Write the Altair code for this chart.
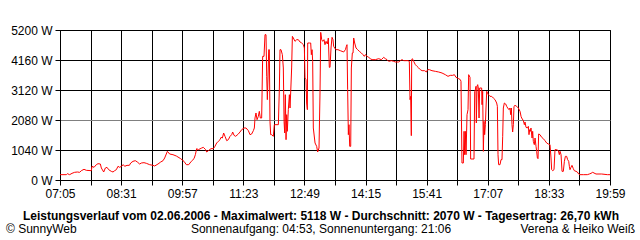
import altair as alt
import pandas as pd

# time in minutes since midnight, power in W
minutes = [
    425.0, 433.9, 435.3, 438.6, 441.9, 445.6, 449.4, 452.7, 455.0, 458.8, 462.1, 469.1, 470.0, 472.9,
    476.1, 478.5, 481.8, 483.2, 486.5, 488.8, 491.1, 493.5, 497.2, 499.6, 501.9, 504.3, 506.6, 509.0,
    511.3, 514.1, 516.0, 519.3, 522.6, 524.5, 527.7, 531.0, 533.8, 537.1, 539.5, 543.2, 546.5, 551.2,
    555.9, 558.2, 562.9, 566.7, 570.0, 572.3, 576.1, 579.3, 584.0, 588.7, 594.8, 599.5, 602.8, 606.1,
    609.8, 613.6, 615.5,
    617.3, 619.7, 624.4, 626.7, 630.0, 631.4, 633.8, 637.5, 640.8, 643.1, 645.5, 647.8, 650.2, 651.6,
    653.5, 655.3, 657.2, 659.6, 661.9, 664.3, 666.6, 668.0, 669.9, 672.2, 676.0, 678.3, 680.7, 684.0,
    686.8, 690.1, 692.4, 694.7, 697.1, 698.5, 699.4, 700.8, 702.3, 704.1, 705.5, 706.9, 708.8, 710.2,
    712.1, 713.5, 714.9, 715.9, 716.8, 717.7, 718.7, 719.6, 720.5, 721.5, 722.9, 725.2, 726.6, 732.3,
    733.7, 734.6, 736.0, 737.9, 739.3, 740.3, 741.2, 742.1, 743.1, 744.0, 744.9, 746.3, 747.8, 748.7,
    749.6, 751.0, 752.0, 753.4, 755.7, 758.1, 760.4, 762.8, 765.1, 767.5, 768.9, 769.8, 771.2, 772.1,
    773.1, 773.6, 775.9, 777.8, 778.7, 779.7, 780.6, 781.5, 783.9, 786.2, 787.6, 789.5, 790.9, 791.9,
    793.3, 794.7, 796.5, 797.9, 799.4, 801.2, 802.6, 804.0, 805.0, 806.4,
    807.8, 809.2, 810.1, 811.6, 813.4, 816.2, 819.5, 821.9, 824.2, 826.6, 828.0, 828.9, 829.8, 830.8,
    831.7, 832.7, 834.1, 835.0, 836.4, 837.4, 838.3, 839.7, 841.6, 843.9, 846.3, 849.1, 851.4, 853.3,
    854.7, 857.1, 859.4, 861.7, 864.1, 868.8, 873.5, 877.2, 880.5, 882.9, 885.2, 887.5, 891.3, 894.6,
    896.9, 901.6, 904.0, 906.3, 908.7, 914.8, 916.6, 917.6, 918.5, 919.4, 919.9, 920.9, 922.7, 925.1,
    927.4, 929.8, 932.1, 934.5, 938.2, 940.6, 942.4, 944.8, 948.5, 953.2, 957.9, 962.6, 967.3, 971.0,
    974.3, 977.6, 980.0, 982.3, 986.1, 988.4, 989.3, 990.7, 992.6, 993.6, 994.5, 995.4, 996.4, 997.8,
    999.2, 1000.1,
    1002.0, 1002.9, 1007.6, 1008.6, 1009.5, 1010.4, 1010.9, 1011.9, 1012.8, 1013.7, 1014.7, 1015.6,
    1018.4, 1018.9, 1019.8, 1020.8, 1021.7, 1022.6, 1023.6, 1024.5, 1025.5, 1027.8, 1030.1, 1032.5,
    1034.8, 1037.2, 1039.5, 1040.5, 1041.4, 1042.3, 1044.2, 1045.6, 1047.0, 1048.0, 1048.9, 1050.3,
    1052.2, 1053.6, 1055.0, 1056.9, 1058.3, 1059.2, 1060.2, 1061.1, 1062.0, 1063.0, 1063.9, 1065.3,
    1067.7, 1070.0, 1072.4, 1073.8, 1074.7, 1077.1, 1078.5, 1079.4, 1080.8, 1082.7, 1084.1, 1085.0,
    1086.0, 1086.9, 1087.8, 1089.3, 1090.2, 1091.1, 1092.5, 1093.5, 1094.9, 1095.8, 1096.8, 1097.7,
    1098.6, 1100.5, 1102.9, 1105.2, 1107.5, 1109.9, 1112.2, 1114.6, 1116.0, 1116.9, 1118.3, 1120.2,
    1121.6, 1124.0, 1126.3, 1127.7, 1128.7, 1130.1, 1131.5, 1133.3, 1134.8, 1136.2, 1138.0, 1139.4,
    1140.9, 1141.8, 1142.7, 1144.1, 1145.5, 1147.4, 1148.8, 1151.2, 1153.0, 1154.9, 1156.8, 1161.5,
    1167.1, 1169.9, 1172.3, 1174.6, 1176.5, 1179.3, 1187.3, 1195.3, 1199.0,
]
watts = [
    185, 185, 219, 185, 231, 266, 277, 266, 323, 370, 335, 323, 474, 439,
    531, 566, 554, 416, 277, 416, 439, 358, 300, 277, 323, 358, 474, 439,
    474, 531, 474, 508, 508, 589, 647, 670, 624, 554, 589, 601, 578, 531,
    508, 485, 554, 624, 670, 763, 994, 901, 878, 832, 739, 647, 531, 531,
    647, 739, 878,
    1086, 1051, 1109, 1132, 1051, 971, 1017, 1086, 1086, 1167, 1283, 1340, 1398, 1479,
    1456, 1629, 1514, 1363, 1398, 1514, 1571, 1664, 1548, 1514, 1595, 1664, 1745, 1803,
    1803, 1710, 1571, 1595, 1710, 1803, 2149, 2323, 2091, 2207, 2380, 2149, 2149, 4287,
    4287, 5038, 5038, 3594, 2785, 3536, 4518, 4518, 2034, 1571, 1571, 1514, 1918, 1918,
    3189, 4518, 4518, 4345, 3883, 2034, 1629, 2958, 1398, 2265, 1687, 2438, 2958, 2496,
    3016, 3883, 4980, 4923, 4807, 4865, 4865, 4784, 4749, 4691, 4576, 3536, 3478, 2669,
    2438, 4749, 4749, 4749, 4345, 4518, 4114, 1803, 1283, 1167, 971, 1109, 3016, 5118,
    4865, 4807, 4865, 4691, 4807, 4715, 4923, 3906, 3906, 4576,
    4946, 4865, 4634, 4576, 4518, 4518, 4483, 4460, 4437, 4518, 4634, 4691, 3131, 1571,
    1918, 1167, 1167, 3883, 4403, 4403, 4923, 4749, 4576, 4518, 4460, 4403, 4345, 4287,
    4345, 4287, 4252, 4206, 4172, 4172, 4206, 4172, 4252, 4206, 4172, 4114, 4137, 4114,
    4091, 4091, 4137, 4172, 4137, 4137, 4114, 2785, 2900, 1537, 4172, 4206, 4114, 3998,
    3940, 3883, 3825, 3790, 3790, 3744, 3825, 3825, 3790, 3767, 3744, 3709, 3651, 3594,
    3628, 3628, 3651, 3559, 3513, 3478, 3420, 589, 589, 1687, 878, 1687, 878, 2265,
    2438, 3651,
    3559, 728, 728, 3074, 3131, 3247, 1976, 3247, 3305, 3189, 2149, 3189,
    3189, 2611, 3074, 994, 2034, 1571, 1918, 2496, 3074, 2958, 2900, 2900,
    2842, 2785, 2669, 2554, 878, 531, 531, 705, 705, 1514, 2496, 2669,
    2635, 2554, 2496, 2438, 2496, 2265, 2496, 1918, 1664, 1918, 2554, 2588,
    2554, 2496, 2380, 2207, 2149, 2057, 1918, 2011, 1826, 1803, 1860, 1571,
    1745, 1687, 1803, 1456, 1687, 1340, 1225, 1456, 1167, 994, 763, 739,
    1595, 1571, 1479, 1433, 1363, 1283, 1248, 1225, 763, 358, 323, 358,
    1051, 1051, 1017, 878, 994, 878, 300, 300, 647, 820, 820, 705,
    647, 474, 358, 439, 508, 393, 323, 300, 277, 208, 185, 185,
    185, 208, 231, 266, 243, 208, 208, 185, 185,
]

x_ticks = [425, 468, 511, 554, 597, 640, 683, 726, 769, 812, 855, 898, 941, 984,
           1027, 1070, 1113, 1156, 1199]
y_ticks = [0, 1040, 2080, 3120, 4160, 5200]

title_text = ("Leistungsverlauf vom 02.06.2006 - Maximalwert: 5118 W - "
              "Durchschnitt: 2070 W - Tagesertrag: 26,70 kWh")
left_text = "\u00a9 SunnyWeb"
mid_text = "Sonnenaufgang: 04:53, Sonnenuntergang: 21:06"
right_text = "Verena & Heiko Wei\u00df"

df = pd.DataFrame({"t": minutes, "w": watts})

FONT = "Liberation Sans"

label_expr = ("(datum.value - 425) % 86 == 0 ? "
              "(floor(datum.value/60) < 10 ? '0' : '') + floor(datum.value/60) + ':' + "
              "(datum.value % 60 < 10 ? '0' : '') + (datum.value % 60) : ''")

line = alt.Chart(df).mark_line(color="#ff0000", strokeWidth=1).encode(
    x=alt.X("t:Q", scale=alt.Scale(domain=[425, 1199], nice=False, zero=False),
            axis=alt.Axis(values=x_ticks, labelExpr=label_expr, title=None,
                          grid=True, gridColor="black", gridOpacity=1, gridWidth=1,
                          tickColor="black", tickSize=5, domainColor="black",
                          labelFont=FONT, labelFontSize=12, labelColor="black",
                          labelPadding=3, labelOverlap=False, labelFlush=False)),
    y=alt.Y("w:Q", scale=alt.Scale(domain=[0, 5200], nice=False),
            axis=alt.Axis(values=y_ticks, labelExpr="datum.value + ' W'", title=None,
                          grid=True,
                          gridColor={"condition": {"test": "datum.value == 2080", "value": "#808080"},
                                     "value": "black"},
                          gridOpacity=1, gridWidth=1,
                          tickColor="black", tickSize=5, domainColor="black",
                          labelFont=FONT, labelFontSize=12, labelColor="black",
                          labelPadding=3)),
)

def txt(s, x, y, align, bold=False):
    return alt.Chart(pd.DataFrame({"s": [s]})).mark_text(
        align=align, baseline="middle", font=FONT, fontSize=12,
        fontWeight="bold" if bold else "normal", color="black"
    ).encode(x=alt.value(x), y=alt.value(y), text="s:N")

chart = alt.layer(
    line,
    txt(title_text, 261, 186, "center", bold=True),
    txt(left_text, -54, 199, "left"),
    txt(mid_text, 261, 199, "center"),
    txt(right_text, 575, 199, "right"),
).properties(
    width=550, height=150,
    autosize=alt.AutoSizeParams(type="none"),
    padding={"left": 60, "top": 30, "right": 30, "bottom": 60},
    background="white",
).configure_view(stroke="black", strokeWidth=1)

chart.save("out.html", embed_options={"renderer": "svg", "actions": False})
